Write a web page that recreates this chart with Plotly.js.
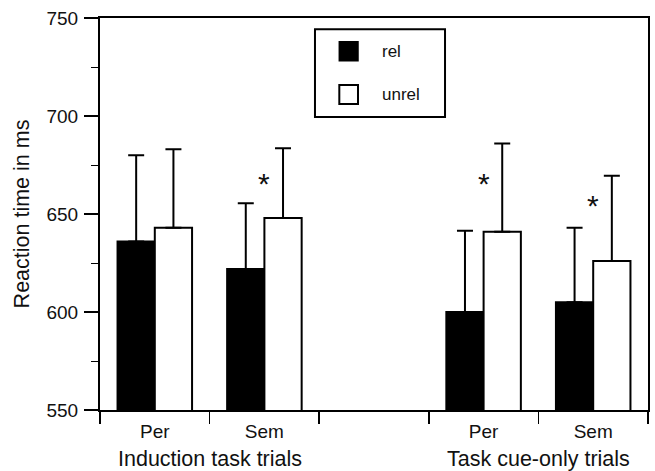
<!DOCTYPE html>
<html>
<head>
<meta charset="utf-8">
<script src="https://cdn.plot.ly/plotly-3.0.1.min.js"></script>
<style>html,body{margin:0;padding:0;background:#fff;}#chart{width:655px;height:471px;}</style>
</head>
<body>
<div id="chart"></div>
<script>
// Category slots (the middle one is an empty spacer)
const categoryIds = ["indPer", "indSem", "gap", "cuePer", "cueSem"];
const tickLabels = ["Per", "Sem", "", "Per", "Sem"];
const barCategories = ["indPer", "indSem", "cuePer", "cueSem"];
const groupLabels = ["Induction task trials", "Task cue-only trials"];
const groupCenters = [0.5, 3.5];
const seriesNames = ["rel", "unrel"];

// Mean reaction times (ms)
const relMeans = [636, 622, 600, 605];
const unrelMeans = [643, 648, 641, 626];
// Upper end of error bars (ms)
const relErrTop = [680, 655.5, 641.5, 643];
const unrelErrTop = [683, 683.5, 686, 669.5];

// Significance markers
const starCategories = ["indSem", "cuePer", "cueSem"];
const starValues = [665.5, 665.5, 654.5];

const txt = "#111";
const fontFam = "Liberation Sans, Arial, sans-serif";

const traces = [
  {
    type: "bar", name: seriesNames[0], x: barCategories, y: relMeans,
    marker: {color: "#000", line: {color: "#000", width: 2}},
    error_y: {type: "data", symmetric: false,
      array: relErrTop.map((v, i) => v - relMeans[i]),
      arrayminus: relMeans.map(() => 0),
      color: "#000", thickness: 2, width: 8},
    showlegend: false
  },
  {
    type: "bar", name: seriesNames[1], x: barCategories, y: unrelMeans,
    marker: {color: "#fff", line: {color: "#000", width: 2}},
    error_y: {type: "data", symmetric: false,
      array: unrelErrTop.map((v, i) => v - unrelMeans[i]),
      arrayminus: unrelMeans.map(() => 0),
      color: "#000", thickness: 2, width: 8},
    showlegend: false
  }
];

// Legend drawn as a boxed key (paper coordinates)
const legendShapes = [
  {type: "rect", xref: "paper", yref: "paper", x0: 0.3923, x1: 0.6296, y0: 0.7474, y1: 0.9712,
   line: {color: "#000", width: 2}, fillcolor: "#fff", layer: "above"},
  {type: "rect", xref: "paper", yref: "paper", x0: 0.4367, x1: 0.4708, y0: 0.8911, y1: 0.9395,
   line: {color: "#000", width: 1.5}, fillcolor: "#000", layer: "above"},
  {type: "rect", xref: "paper", yref: "paper", x0: 0.4367, x1: 0.4708, y0: 0.7806, y1: 0.8291,
   line: {color: "#000", width: 2}, fillcolor: "#fff", layer: "above"}
];
const legendText = [
  {x: 0.5109, y: 0.914, text: seriesNames[0]},
  {x: 0.5109, y: 0.806, text: seriesNames[1]}
].map(o => ({x: o.x, y: o.y, xref: "paper", yref: "paper", text: o.text, showarrow: false,
  xanchor: "left", yanchor: "middle", font: {size: 17, color: txt, family: fontFam}}));

const annotations = starCategories.map((c, i) => ({
  x: c, y: starValues[i], xref: "x", yref: "y", text: "*",
  showarrow: false, font: {size: 30, color: txt, family: fontFam},
  yanchor: "middle"
})).concat(groupLabels.map((g, i) => ({
  x: groupCenters[i], y: 0, xref: "x", yref: "paper", text: g,
  showarrow: false, yanchor: "middle", yshift: -49,
  font: {size: 21.5, color: txt, family: fontFam}
}))).concat(legendText);

const layout = {
  width: 655, height: 471,
  margin: {l: 100, r: 7, t: 18, b: 61},
  paper_bgcolor: "#fff", plot_bgcolor: "#fff",
  font: {family: fontFam, color: txt},
  barmode: "group", bargap: 0.32, bargroupgap: 0,
  showlegend: false,
  xaxis: {
    type: "category", categoryorder: "array", categoryarray: categoryIds,
    tickmode: "array", tickvals: categoryIds, ticktext: tickLabels,
    tickson: "boundaries", range: [-0.5, 4.5],
    ticks: "outside", ticklen: 12, tickwidth: 1.5, tickcolor: "#000",
    ticklabelstandoff: 3,
    showline: true, linecolor: "#000", linewidth: 2, mirror: true,
    showgrid: false, zeroline: false,
    tickfont: {size: 19, color: txt, family: fontFam}
  },
  yaxis: {
    range: [550, 750], tickvals: [550, 600, 650, 700, 750],
    ticks: "outside", ticklen: 14, tickwidth: 1.5, tickcolor: "#000",
    ticklabelstandoff: 2,
    minor: {tickvals: [575, 625, 675, 725], ticks: "outside", ticklen: 7, tickwidth: 1, tickcolor: "#000", showgrid: false},
    showline: true, linecolor: "#000", linewidth: 2, mirror: true,
    showgrid: false, zeroline: false,
    tickfont: {size: 19, color: txt, family: fontFam},
    title: {text: "Reaction time in ms", font: {size: 21.5, color: txt, family: fontFam}, standoff: 11}
  },
  shapes: legendShapes,
  annotations: annotations
};

Plotly.newPlot("chart", traces, layout, {displayModeBar: false, staticPlot: true});
</script>
</body>
</html>
